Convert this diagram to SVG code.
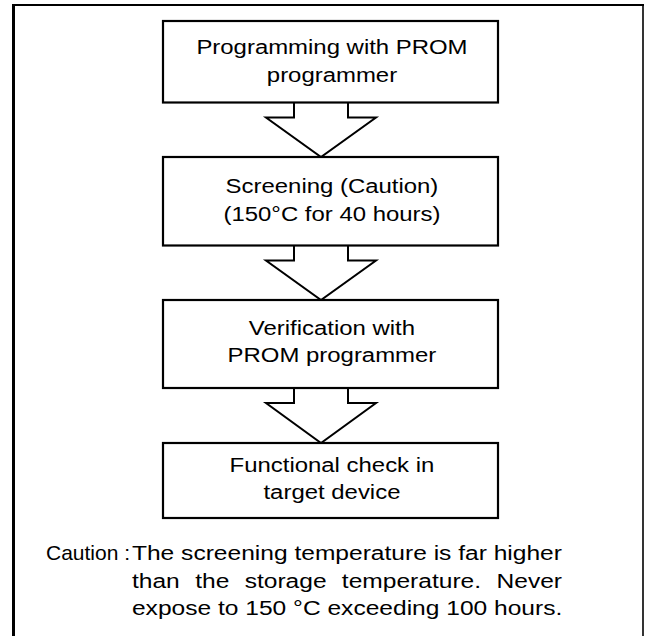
<svg xmlns="http://www.w3.org/2000/svg" width="645" height="636" viewBox="0 0 645 636">
<style>
.box{fill:#fff;stroke:#000;stroke-width:2.2}
.arr{fill:#fff;stroke:#000;stroke-width:2;stroke-linejoin:miter}
.frame{stroke:#000;fill:none}
text{font-family:"Liberation Sans",Arial,sans-serif;font-size:21px;fill:#000}
.c{text-anchor:middle}
</style>
<rect x="0" y="0" width="645" height="636" fill="#fff"/>
<line class="frame" x1="13.5" y1="4" x2="13.5" y2="636" stroke-width="3"/>
<line class="frame" x1="12" y1="5" x2="644" y2="5" stroke-width="2"/>
<line class="frame" x1="643" y1="4" x2="643" y2="636" stroke-width="1.6"/>
<g id="connectors">
<polyline class="arr" points="294,102.5 294,117.5 266,117.5 321,157 376,117.5 348,117.5 348,102.5"/>
<polyline class="arr" points="294,245.5 294,260.5 266,260.5 321,300 376,260.5 348,260.5 348,245.5"/>
<polyline class="arr" points="294,388 294,403 266,403 321,443 376,403 348,403 348,388"/>
</g>
<g id="n1">
<rect class="box" x="163" y="21" width="335" height="81.5"/>
<text class="c" transform="scale(1.14,1)" x="291.2" y="54">Programming with PROM</text>
<text class="c" transform="scale(1.14,1)" x="291.2" y="82">programmer</text>
</g>
<g id="n2">
<rect class="box" x="163" y="157" width="335" height="88.5"/>
<text class="c" transform="scale(1.14,1)" x="291.2" y="193">Screening (Caution)</text>
<text class="c" transform="scale(1.14,1)" x="291.2" y="221">(150°C for 40 hours)</text>
</g>
<g id="n3">
<rect class="box" x="163" y="300" width="335" height="88"/>
<text class="c" transform="scale(1.14,1)" x="291.2" y="335">Verification with</text>
<text class="c" transform="scale(1.14,1)" x="291.2" y="362">PROM programmer</text>
</g>
<g id="n4">
<rect class="box" x="163" y="443" width="335" height="75"/>
<text class="c" transform="scale(1.14,1)" x="291.2" y="472">Functional check in</text>
<text class="c" transform="scale(1.14,1)" x="291.2" y="499">target device</text>
</g>
<g id="note">
<text x="46" y="560">Caution :</text>
<g transform="scale(1.17,1)">
<text x="112.8" y="560">The screening temperature is far higher</text>
<text y="588"><tspan x="112.8">than</tspan><tspan x="166.8">the</tspan><tspan x="209.1">storage</tspan><tspan x="292.2">temperature.</tspan><tspan x="424.4">Never</tspan></text>
<text x="112.8" y="615">expose to 150 °C exceeding 100 hours.</text>
</g>
</g>
</svg>
